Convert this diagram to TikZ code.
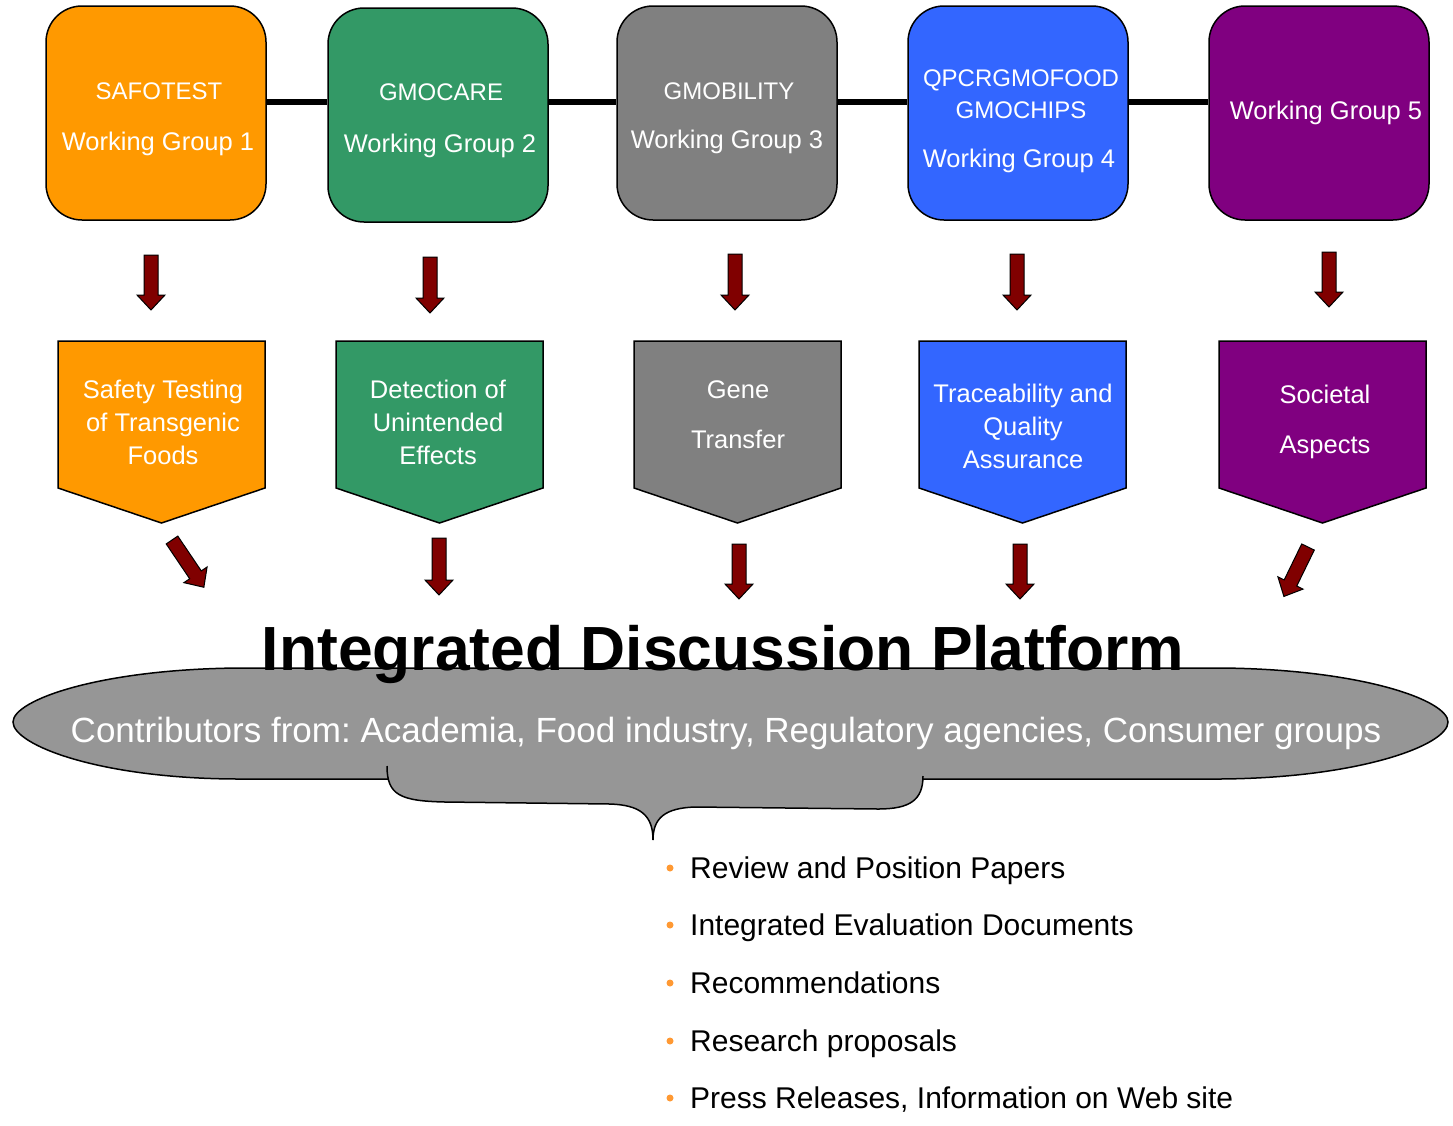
\documentclass[tikz,border=0pt]{standalone}
\usepackage{fontspec}
\setmainfont{Liberation Sans}
\frenchspacing
\definecolor{wgorange}{HTML}{FF9900}
\definecolor{wggreen}{HTML}{339966}
\definecolor{wggray}{HTML}{808080}
\definecolor{wgblue}{HTML}{3366FF}
\definecolor{wgpurple}{HTML}{800080}
\definecolor{arrowred}{HTML}{800000}
\definecolor{platgray}{HTML}{969696}
\definecolor{bulletorange}{HTML}{FF9933}
\begin{document}
\begin{tikzpicture}[x=1pt,y=-1pt,
  wgbox/.style={draw=black, line width=1.5pt, rounded corners=36pt, minimum width=220pt, minimum height=214pt, inner sep=0pt},
  link/.style={line width=6pt},
  wtext/.style={text=white, anchor=base, inner sep=0pt, font=\fontsize{25.5}{30}\selectfont},
  ctext/.style={wtext, font=\fontsize{24}{28}\selectfont},
  chev/.style={draw=black, line width=1.5pt},
  blk/.style={draw=black, line width=1pt, fill=arrowred},
  pics/blockarrow/.style={code={\draw[blk] (-7,0) -- (7,0) -- (7,#1-15) -- (14,#1-15) -- (0,#1) -- (-14,#1-15) -- (-7,#1-15) -- cycle;}},
  dot/.style={circle, fill=bulletorange, minimum size=7pt, inner sep=0pt},
  btext/.style={anchor=base west, inner sep=0pt, font=\fontsize{30}{36}\selectfont}
]
\useasboundingbox (0,0) rectangle (1453,1125);

% top working group boxes
\node[wgbox, fill=wgorange] (b1) at (156,113) {};
\node[wgbox, fill=wggreen]  (b2) at (438,115) {};
\node[wgbox, fill=wggray]   (b3) at (727,113) {};
\node[wgbox, fill=wgblue]   (b4) at (1018,113) {};
\node[wgbox, fill=wgpurple] (b5) at (1319,113) {};

\draw[link] (b1.east |- 0,102) -- (b2.west |- 0,102);
\draw[link] (b2.east |- 0,102) -- (b3.west |- 0,102);
\draw[link] (b3.east |- 0,102) -- (b4.west |- 0,102);
\draw[link] (b4.east |- 0,102) -- (b5.west |- 0,102);

\node[ctext] (t1a) at (159,99) {SAFOTEST};
\node[wtext] (t1b) at (158,150) {Working Group 1};
\node[ctext] (t2a) at (441,100) {GMOCARE};
\node[wtext] (t2b) at (440,152) {Working Group 2};
\node[ctext] (t3a) at (729,99) {GMOBILITY};
\node[wtext] (t3b) at (727,148) {Working Group 3};
\node[ctext] (t4a) at (1021,86) {QPCRGMOFOOD};
\node[ctext] (t4b) at (1021,118) {GMOCHIPS};
\node[wtext] (t4c) at (1019,167) {Working Group 4};
\node[wtext] (t5a) at (1326,119) {Working Group 5};

% arrows to topic chevrons
\pic at (151,255) {blockarrow=55};
\pic at (430,257) {blockarrow=56};
\pic at (735,254) {blockarrow=56};
\pic at (1017,254) {blockarrow=56};
\pic at (1329,252) {blockarrow=55};

% topic chevrons
\draw[chev, fill=wgorange] (58,341) -- (265,341) -- (265,488) -- (161.5,523) -- (58,488) -- cycle;
\draw[chev, fill=wggreen]  (336,341) -- (543,341) -- (543,488) -- (439.5,523) -- (336,488) -- cycle;
\draw[chev, fill=wggray]   (634,341) -- (841,341) -- (841,488) -- (737.5,523) -- (634,488) -- cycle;
\draw[chev, fill=wgblue]   (919,341) -- (1126,341) -- (1126,488) -- (1022.5,523) -- (919,488) -- cycle;
\draw[chev, fill=wgpurple] (1219,341) -- (1426,341) -- (1426,488) -- (1322.5,523) -- (1219,488) -- cycle;

\node[wtext] (p1a) at (163,398) {Safety Testing};
\node[wtext] (p1b) at (163,431) {of Transgenic};
\node[wtext] (p1c) at (163,464) {Foods};
\node[wtext] (p2a) at (438,398) {Detection of};
\node[wtext] (p2b) at (438,431) {Unintended};
\node[wtext] (p2c) at (438,464) {Effects};
\node[wtext] (p3a) at (738,398) {Gene};
\node[wtext] (p3b) at (738,448) {Transfer};
\node[wtext] (p4a) at (1023,402) {Traceability and};
\node[wtext] (p4b) at (1023,435) {Quality};
\node[wtext] (p4c) at (1023,468) {Assurance};
\node[wtext] (p5a) at (1325,403) {Societal};
\node[wtext] (p5b) at (1325,453) {Aspects};

% arrows to platform
\pic[rotate=34] at (172,540) {blockarrow=57};
\pic at (439,538) {blockarrow=57};
\pic at (739,544) {blockarrow=55};
\pic at (1020,544) {blockarrow=55};
\pic[rotate=-26] at (1308,547) {blockarrow=55};

% platform
\draw[fill=platgray, line width=1.5pt]
  (240,668) -- (1220,668)
  .. controls (1360,669) and (1448,700) .. (1448,722)
  .. controls (1448,745) and (1360,778) .. (1220,779)
  -- (240,779)
  .. controls (100,779) and (13,745) .. (13,722)
  .. controls (13,700) and (100,669) .. (240,668) -- cycle;
\fill[platgray]
  (387,766) .. controls (387,795) and (400,801) .. (445,802)
  -- (610,804) .. controls (640,805) and (653,815) .. (653,840)
  .. controls (653,818) and (665,808) .. (695,807)
  -- (878,809) .. controls (910,809) and (923,800) .. (923,776)
  -- (923,770) -- (387,766) -- cycle;
\draw[line width=1.5pt]
  (387,766) .. controls (387,795) and (400,801) .. (445,802)
  -- (610,804) .. controls (640,805) and (653,815) .. (653,840)
  .. controls (653,818) and (665,808) .. (695,807)
  -- (878,809) .. controls (910,809) and (923,800) .. (923,776);

\node[anchor=base, inner sep=0pt, font=\fontsize{62.4}{72}\selectfont\bfseries] (title) at (723,670) {Integrated Discussion Platform};
\node[anchor=base, inner sep=0pt, text=white, font=\fontsize{35}{42}\selectfont] (contrib) at (726,742) {Contributors from: Academia, Food industry, Regulatory agencies, Consumer groups};

% outputs
\node[dot] (d1) at (670,868) {};
\node[dot] (d2) at (670,925) {};
\node[dot] (d3) at (670,983) {};
\node[dot] (d4) at (670,1041) {};
\node[dot] (d5) at (670,1098) {};
\node[btext] (o1) at (690,878) {Review and Position Papers};
\node[btext] (o2) at (690,935) {Integrated Evaluation Documents};
\node[btext] (o3) at (690,993) {Recommendations};
\node[btext] (o4) at (690,1051) {Research proposals};
\node[btext] (o5) at (690,1108) {Press Releases, Information on Web site};
\end{tikzpicture}
\end{document}
